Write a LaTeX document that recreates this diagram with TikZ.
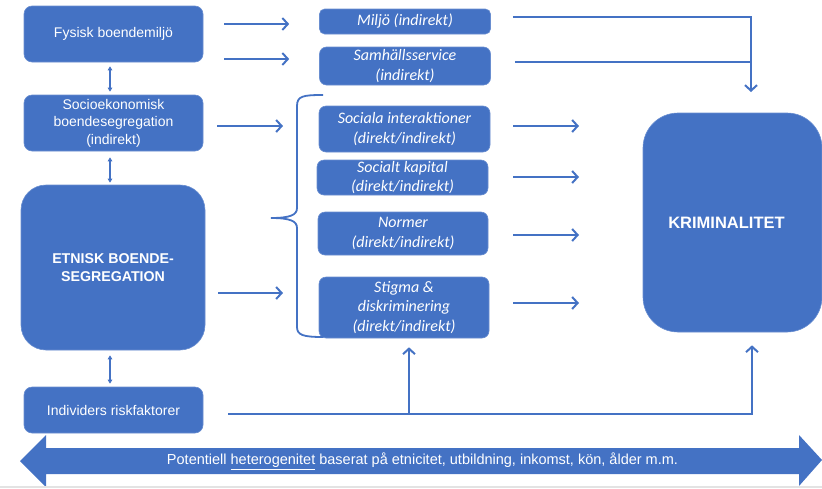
\documentclass[tikz,border=0pt]{standalone}
\usepackage{fontspec}
\setmainfont{Liberation Sans}
\newfontfamily\calfont{Carlito}
\usetikzlibrary{arrows.meta,calc}
\definecolor{blu}{HTML}{4472C4}
\begin{document}
\begin{tikzpicture}[x=1pt,y=-1pt,
 box/.style={fill=blu, draw=blu!80!white, line width=0.6pt, rounded corners=8pt, text=white, align=center, inner sep=0pt},
 lbox/.style={box, minimum width=179pt, font=\fontsize{14}{17.5}\selectfont},
 mbox/.style={box, rounded corners=7pt, font=\calfont\itshape\fontsize{16}{19.2}\selectfont},
 arr/.style={draw=blu, line width=2pt, -{Straight Barb[length=5.5pt,width=12pt]}},
 dbl/.style={draw=blu, line width=1.3pt, {Triangle[length=4pt,width=4.5pt]}-{Triangle[length=4pt,width=4.5pt]}},
 ln/.style={draw=blu, line width=2pt}]
\useasboundingbox (0,0) rectangle (822,488);
% left column
\node[lbox, minimum height=56pt] (fys) at (113.5,34) {Fysisk boendemiljö};
\node[lbox, minimum height=56pt] (soc) at (113.5,123) {Socioekonomisk\\boendesegregation\\(indirekt)};
\node[box, minimum width=184pt, minimum height=165pt, rounded corners=25pt, font=\bfseries\fontsize{14.2}{18}\selectfont] (etn) at (113,267.5) {ETNISK BOENDE-\\SEGREGATION};
\node[lbox, minimum height=46pt] (ind) at (113.5,410) {Individers riskfaktorer};
% middle column
\node[mbox, minimum width=171pt, minimum height=25pt, rounded corners=5pt] (mil) at (405,21.5) {Miljö (indirekt)};
\node[mbox, minimum width=171pt, minimum height=38pt] (sam) at (405,66) {Samhällsservice\\(indirekt)};
\node[mbox, minimum width=171pt, minimum height=46pt] (sia) at (404.5,129) {Sociala interaktioner\\(direkt/indirekt)};
\node[mbox, minimum width=171pt, minimum height=35pt] (kap) at (402.5,177.5) {Socialt kapital\\(direkt/indirekt)};
\node[mbox, minimum width=170pt, minimum height=43pt] (nor) at (403,233.5) {Normer\\(direkt/indirekt)};
\node[mbox, minimum width=170pt, minimum height=61pt] (sti) at (404,307.5) {Stigma \&\\diskriminering\\(direkt/indirekt)};
% right
\node[box, minimum width=179pt, minimum height=219pt, rounded corners=35pt, font=\bfseries\fontsize{16.5}{18}\selectfont] (krim) at (732.5,222.5) {\hspace*{-12pt}KRIMINALITET};
% coordinates
\coordinate (s3) at (283,126);
\coordinate (e3) at (283,293);
\coordinate (r1) at (579,126);
\coordinate (r2) at (579,177);
\coordinate (r3) at (579,235);
\coordinate (r4) at (579,303);
\coordinate (kin) at (751,92);
\coordinate (kj) at (751,62);
\coordinate (jn) at (409,414);
% vertical double arrows
\draw[dbl, shorten <=4pt, shorten >=3pt] (fys.south -| 110,0) -- (soc.north -| 110,0);
\draw[dbl, shorten <=6pt, shorten >=2pt] (soc.south -| 110,0) -- (etn.north -| 110,0);
\draw[dbl, shorten <=5pt, shorten >=3pt] (etn.south -| 110,0) -- (ind.north -| 110,0);
% horizontal arrows
\draw[arr, shorten <=21pt, shorten >=30pt] (fys.east |- 0,24) -- (mil.west |- 0,24);
\draw[arr, shorten <=21pt, shorten >=30pt] (fys.east |- 0,59) -- (sam.west |- 0,59);
\draw[arr, shorten <=14pt] (soc.east |- 0,126) -- (s3);
\draw[arr, shorten <=13pt] (etn.east |- 0,293) -- (e3);
\draw[arr, shorten <=23pt] (sia.east |- 0,126) -- (r1);
\draw[arr, shorten <=25pt] (kap.east |- 0,177) -- (r2);
\draw[arr, shorten <=25pt] (nor.east |- 0,235) -- (r3);
\draw[arr, shorten <=24pt] (sti.east |- 0,303) -- (r4);
% to KRIMINALITET from top
\draw[arr, shorten <=22pt] (mil.east |- 0,17) -| (kin);
\draw[ln, shorten <=24pt] (sam.east |- 0,62) -- (kj);
% from Individers
\draw[arr, shorten <=25pt, shorten >=13pt] (ind.east |- 0,414) -| (krim.south -| 752,0);
\draw[arr, shorten >=9pt] (jn) -- (sti.south -| 409,0);
% brace
\draw[ln, line width=1.8pt] (323,95) .. controls (303,95) and (297,96) .. (297,106) -- (297,208) .. controls (297,215) and (290,218) .. (271,218) .. controls (290,218) and (297,221) .. (297,228) -- (297,327) .. controls (297,335) and (303,337) .. (323,337);
% bottom double arrow
\fill[blu] (20,461) -- (46,435) -- (46,448) -- (799,448) -- (799,435) -- (822,460) -- (799,486) -- (799,474) -- (46,474) -- (46,487) -- cycle;
\node[text=white, font=\fontsize{14.5}{16}\selectfont, inner sep=0pt] (het) at (422.5,461) {Potentiell \underline{heterogenitet} baserat på etnicitet, utbildning, inkomst, kön, ålder m.m.};
\fill[gray!22] (0,485.5) rectangle (822,488);
\end{tikzpicture}
\end{document}
